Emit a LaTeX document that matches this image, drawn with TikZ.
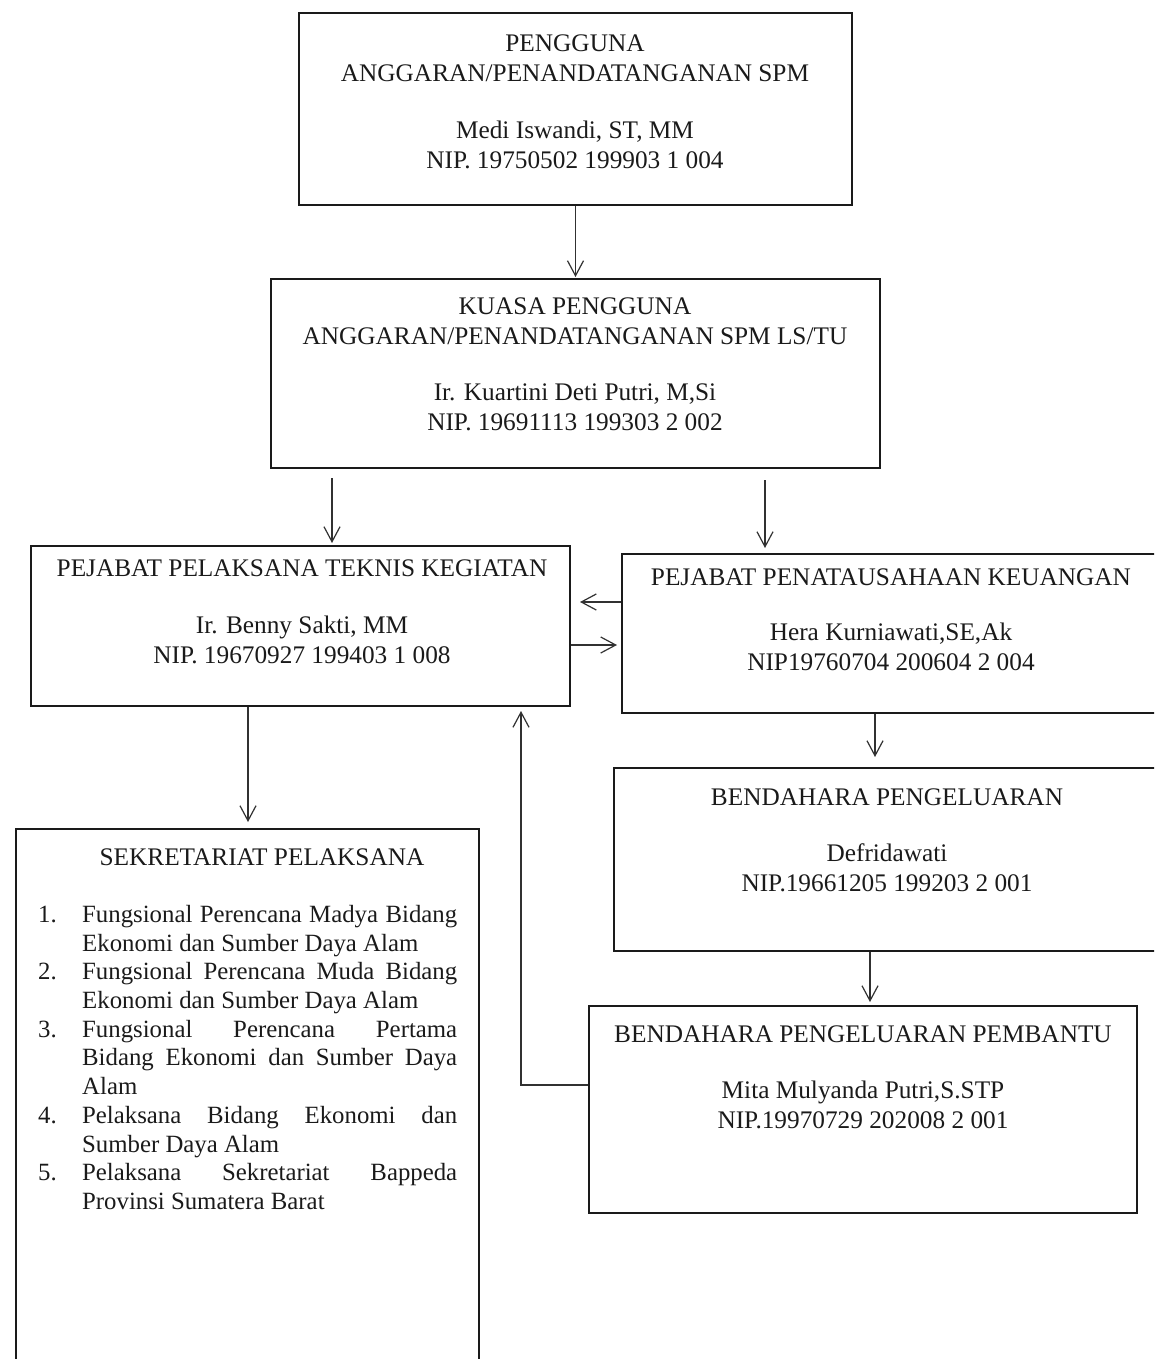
\documentclass[tikz,border=0pt]{standalone}
\usepackage{fontspec}
\setmainfont{Liberation Serif}
\usetikzlibrary{arrows.meta}
\definecolor{ink}{HTML}{1A1A1A}
\hbadness=10000
\begin{document}
\begin{tikzpicture}[x=1pt,y=-1pt,
  box/.style={draw=ink, line width=2pt, rectangle, inner sep=0pt, anchor=north west},
  txt/.style={align=center, inner sep=0pt, anchor=north, text=ink, font=\fontsize{25.3}{30}\selectfont},
  arr/.style={draw=ink!90, line width=1.2pt, -{Straight Barb[length=15pt,width=16pt,line width=1.2pt]}},
]
\useasboundingbox (0,0) rectangle (1154,1359);
\clip (0,0) rectangle (1154,1359);

% boxes
\node[box, minimum width=553pt, minimum height=192pt] (top) at (298,12) {};
\node[box, minimum width=609pt, minimum height=189pt] (kpa) at (270,278) {};
\node[box, minimum width=539pt, minimum height=160pt] (pptk) at (30,545) {};
\node[box, minimum width=560pt, minimum height=159pt] (ppk) at (621,553) {};
\node[box, minimum width=570pt, minimum height=183pt] (bp) at (613,767) {};
\node[box, minimum width=548pt, minimum height=207pt] (bpp) at (588,1005) {};
\node[box, minimum width=463pt, minimum height=545pt] (sek) at (15,828) {};

% box texts
\node[txt] (ttop) at (575,34.5) {PENGGUNA\\ANGGARAN/PENANDATANGANAN SPM\\[27pt]Medi Iswandi, ST, MM\\NIP. 19750502 199903 1 004};
\node[txt] (tkpa) at (575,297.5) {KUASA PENGGUNA\\ANGGARAN/PENANDATANGANAN SPM LS/TU\\[26pt]Ir. Kuartini Deti Putri, M,Si\\NIP. 19691113 199303 2 002};
\node[txt] (tpptk) at (302,559.5) {PEJABAT PELAKSANA TEKNIS KEGIATAN\\[27pt]Ir. Benny Sakti, MM\\NIP. 19670927 199403 1 008};
\node[txt] (tppk) at (891,568.5) {PEJABAT PENATAUSAHAAN KEUANGAN\\[25pt]Hera Kurniawati,SE,Ak\\NIP19760704 200604 2 004};
\node[txt] (tbp) at (887,788.5) {BENDAHARA PENGELUARAN\\[26pt]Defridawati\\NIP.19661205 199203 2 001};
\node[txt] (tbpp) at (863,1025.5) {BENDAHARA PENGELUARAN PEMBANTU\\[26pt]Mita Mulyanda Putri,S.STP\\NIP.19970729 202008 2 001};
\node[txt] (tsek) at (262,848.5) {SEKRETARIAT PELAKSANA};

% numbered list of the secretariat
\node[anchor=north west, inner sep=0pt, text width=419pt, align=justify, text=ink,
      font=\fontsize{24.8}{28.7}\selectfont] (items) at (38,905) {%
\hangindent=44pt\hangafter=1\noindent\makebox[44pt][l]{1.}Fungsional Perencana Madya Bidang\linebreak Ekonomi dan Sumber Daya Alam\par
\hangindent=44pt\hangafter=1\noindent\makebox[44pt][l]{2.}Fungsional Perencana Muda Bidang\linebreak Ekonomi dan Sumber Daya Alam\par
\hangindent=44pt\hangafter=1\noindent\makebox[44pt][l]{3.}Fungsional Perencana Pertama\linebreak Bidang Ekonomi dan Sumber Daya\linebreak Alam\par
\hangindent=44pt\hangafter=1\noindent\makebox[44pt][l]{4.}Pelaksana Bidang Ekonomi dan\linebreak Sumber Daya Alam\par
\hangindent=44pt\hangafter=1\noindent\makebox[44pt][l]{5.}Pelaksana Sekretariat Bappeda\linebreak Provinsi Sumatera Barat\par};

% connectors
\draw[arr, shorten >=1pt] (top.south) -- (kpa.north);
\coordinate (k1) at (332,478);
\draw[arr, shorten >=2pt] (k1) -- (k1 |- pptk.north);
\coordinate (k2) at (765,480);
\draw[arr, shorten >=5pt] (k2) -- (k2 |- ppk.north);
\coordinate (h1) at (0,602);
\coordinate (h2) at (0,645);
\draw[arr, shorten >=9pt] (ppk.west |- h1) -- (pptk.east |- h1);
\draw[arr, shorten >=4pt] (pptk.east |- h2) -- (ppk.west |- h2);
\coordinate (v1) at (248,0);
\draw[arr, shorten >=6pt] (pptk.south -| v1) -- (sek.north -| v1);
\coordinate (v2) at (875,0);
\draw[arr, shorten >=10pt] (ppk.south -| v2) -- (bp.north -| v2);
\coordinate (v3) at (870,0);
\draw[arr, shorten >=3pt] (bp.south -| v3) -- (bpp.north -| v3);
\coordinate (r1) at (521,1085);
\draw[arr, shorten >=4pt] (bpp.west |- r1) -- (r1) -- (r1 |- pptk.south);
\end{tikzpicture}
\end{document}
